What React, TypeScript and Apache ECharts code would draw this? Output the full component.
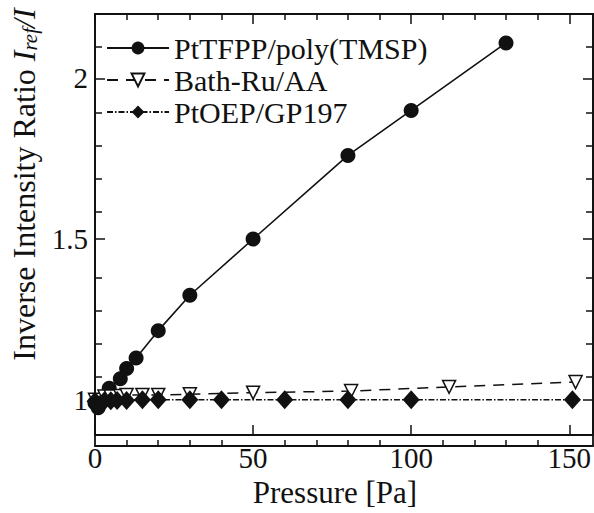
import React, { useEffect, useRef } from "react";
import * as echarts from "echarts";

const seriesNames = ["PtTFPP/poly(TMSP)", "Bath-Ru/AA", "PtOEP/GP197"];

const ptPressure = [0, 1, 2, 4.5, 8, 10, 13, 20, 30, 50, 80, 100, 130];
const ptRatio = [0.99, 0.975, 1.0, 1.036, 1.065, 1.097, 1.13, 1.215, 1.325, 1.5, 1.76, 1.9, 2.11];

const ruPressure = [0, 3, 5, 8, 10, 15, 20, 30, 50, 81, 112, 152];
const ruRatio = [1.0, 1.01, 1.01, 1.012, 1.015, 1.015, 1.015, 1.017, 1.022, 1.027, 1.04, 1.055];

const oepPressure = [0, 3, 5, 7, 10, 15, 20, 30, 40, 60, 80, 100, 151];
const oepRatio = [0.995, 0.997, 0.997, 0.998, 0.998, 1.0, 1.0, 1.0, 1.0, 1.0, 1.0, 1.0, 1.0];

const xMajorTicks = [0, 50, 100, 150];
const xMinorTicks = [10, 20, 30, 40, 60, 70, 80, 90, 110, 120, 130, 140];
const yMajorTicks = [1, 1.5, 2];
const yMinorTicks = [1.1, 1.2, 1.3, 1.4, 1.6, 1.7, 1.8, 1.9, 2.1];

const X_MIN = 0;
const X_MAX = 157.5;
const Y_MIN = 0.89;
const Y_MAX = 2.2;

const FONT = "'Liberation Serif', 'Times New Roman', serif";
const INK = "#111";

function zip(xs: number[], ys: number[]) {
  return xs.map((x, i) => [x, ys[i]]);
}

function axis(
  kind: "x" | "y",
  gridIndex: number,
  position: string,
  ticks: number[],
  len: number,
  labels: boolean
) {
  const isX = kind === "x";
  const base: any = {
    type: "value",
    gridIndex,
    position,
    min: isX ? X_MIN : Y_MIN,
    max: isX ? X_MAX : Y_MAX,
    axisLine: { show: true, onZero: false, lineStyle: { color: INK, width: 1.8 } },
    splitLine: { show: false },
    axisTick: {
      show: true,
      inside: true,
      length: len,
      customValues: ticks,
      lineStyle: { color: INK, width: 1.5 },
    },
    axisLabel: labels
      ? {
          show: true,
          customValues: ticks,
          fontFamily: FONT,
          fontSize: 29,
          color: INK,
          margin: isX ? 8 : 7,
          formatter: (v: number) => String(v),
        }
      : { show: false },
  };
  return base;
}

export default function App() {
  const ref = useRef<HTMLDivElement>(null);

  useEffect(() => {
    if (!ref.current) return;
    const chart = echarts.init(ref.current, null, { renderer: "svg" });

    const x0 = axis("x", 0, "bottom", xMajorTicks, 10, true);
    x0.name = "Pressure [Pa]";
    x0.nameLocation = "middle";
    x0.nameGap = 41;
    x0.nameTextStyle = { fontFamily: FONT, fontSize: 31, color: INK, padding: [0, 18, 0, 0] };

    const y0 = axis("y", 0, "left", yMajorTicks, 10, true);
    y0.name = "Inverse Intensity Ratio {it|I}{sub|ref}{it|/I}";
    y0.nameLocation = "middle";
    y0.nameRotate = 90;
    y0.nameGap = 46;
    y0.nameTextStyle = {
      fontFamily: FONT,
      fontSize: 32,
      color: INK,
      padding: [0, 0, 0, 80],
      rich: {
        it: { fontFamily: FONT, fontSize: 32, fontStyle: "italic", color: INK },
        sub: {
          fontFamily: FONT,
          fontSize: 21,
          fontStyle: "italic",
          color: INK,
          verticalAlign: "bottom",
          padding: [12, 0, 0, 0],
        },
      },
    };

    const gridRect = { left: 95, right: 1, top: 14, bottom: 67, containLabel: false };

    const option: any = {
      animation: false,
      backgroundColor: "#fff",
      grid: [gridRect, { ...gridRect }],
      legend: {
        orient: "vertical",
        left: 101,
        top: 28,
        itemWidth: 62,
        itemHeight: 16,
        itemGap: 2,
        textStyle: { fontFamily: FONT, fontSize: 30, lineHeight: 30, color: INK },
        data: seriesNames,
      },
      xAxis: [
        x0,
        axis("x", 0, "top", xMajorTicks, 10, false),
        axis("x", 1, "bottom", xMinorTicks, 6, false),
        axis("x", 1, "top", xMinorTicks, 6, false),
      ],
      yAxis: [
        y0,
        axis("y", 0, "right", yMajorTicks, 10, false),
        axis("y", 1, "left", yMinorTicks, 7, false),
        axis("y", 1, "right", yMinorTicks, 7, false),
      ],
      series: [
        {
          name: seriesNames[0],
          type: "line",
          xAxisIndex: 0,
          yAxisIndex: 0,
          data: zip(ptPressure, ptRatio),
          clip: false,
          symbol: "circle",
          symbolSize: 15,
          itemStyle: { color: INK },
          lineStyle: { color: INK, width: 1.6, type: "solid" },
        },
        {
          name: seriesNames[1],
          type: "line",
          xAxisIndex: 0,
          yAxisIndex: 0,
          data: zip(ruPressure, ruRatio),
          clip: false,
          symbol: "triangle",
          symbolRotate: 180,
          symbolSize: 13,
          itemStyle: { color: "#fff", borderColor: INK, borderWidth: 1.5 },
          lineStyle: { color: INK, width: 1.5, type: [11, 8] },
        },
        {
          name: seriesNames[2],
          type: "line",
          xAxisIndex: 0,
          yAxisIndex: 0,
          data: zip(oepPressure, oepRatio),
          clip: false,
          symbol: "diamond",
          symbolSize: [17, 19],
          itemStyle: { color: INK },
          lineStyle: { color: INK, width: 1.5, type: [6, 2, 1.5, 2] },
        },
      ],
    };

    chart.setOption(option);
    return () => chart.dispose();
  }, []);

  return (
    <div
      ref={ref}
      style={{ position: "fixed", left: 0, top: 0, width: 594, height: 513 }}
    />
  );
}
